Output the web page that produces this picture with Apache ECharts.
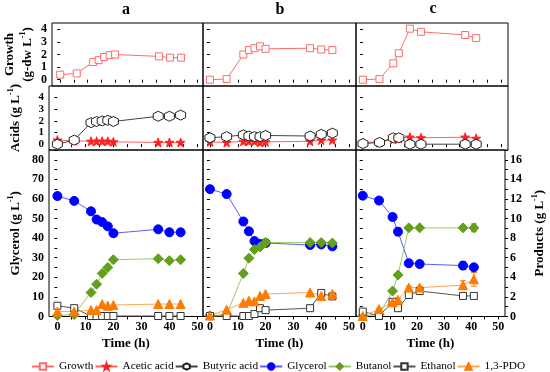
<!DOCTYPE html>
<html><head><meta charset="utf-8">
<script src="https://cdn.jsdelivr.net/npm/echarts@6/dist/echarts.min.js"></script>
<style>html,body{margin:0;padding:0;background:#fff}#c{width:550px;height:372px}</style>
</head><body><div id="c"></div>
<script>
// ---------- DATA ----------
const timeAB = [0, 6, 12, 14, 16, 18, 20, 36, 40, 44];
const timeC = [0, 6, 11, 13, 17, 21, 37, 41];

const growthA = [0.4, 0.5, 1.4, 1.55, 1.8, 1.95, 2.0, 1.85, 1.75, 1.75];
const growthB = [0.0, 0.05, 2.0, 2.35, 2.5, 2.65, 2.45, 2.5, 2.4, 2.35];
const growthC = [0.0, 0.05, 1.3, 2.1, 4.05, 3.8, 3.55, 3.3];

const aceticA = [0.35, 0.3, 0.25, 0.25, 0.25, 0.25, 0.2, 0.15, 0.15, 0.15];
const aceticB = [0.2, 0.15, 0.25, 0.25, 0.25, 0.15, 0.2, 0.25, 0.35, 0.35];
const aceticC = [0.15, 0.2, 0.4, 0.5, 0.6, 0.55, 0.6, 0.5];

const butyricA = [0.0, 0.35, 1.85, 1.95, 2.0, 2.05, 1.95, 2.4, 2.4, 2.5];
const butyricB = [0.55, 0.65, 0.8, 0.7, 0.65, 0.65, 0.75, 0.7, 0.85, 0.95];
const butyricC = [0.05, 0.15, 0.55, 0.55, 0.0, 0.0, 0.0, 0.0];

const glycerolA = [61.5, 59, 53.7, 49.5, 48.2, 46, 42.5, 44.5, 43, 43];
const glycerolB = [65, 62.5, 48.5, 43.5, 38.5, 37, 37.5, 36.5, 36.8, 35.8];
const glycerolC = [61.7, 59.2, 50.8, 43.3, 27.2, 26.8, 26, 25.1];

const butanolA = [0.1, 0.2, 2.45, 3.3, 4.4, 5.0, 5.8, 5.9, 5.7, 5.8];
const butanolB = [0.1, 0.2, 4.4, 5.95, 6.85, 7.1, 7.55, 7.55, 7.55, 7.5];
const butanolC = [0.05, 0.2, 2.6, 4.25, 9.05, 9.05, 9.05, 9.05];

const ethanolA = [1.1, 0.85, 0.05, 0.05, 0.05, 0.05, 0.05, 0.05, 0.05, 0.05];
const ethanolB = [0.05, 0.05, 0.05, 0.05, 0.25, 0.85, 0.65, 0.85, 2.4, 2.05];
const ethanolC = [0.5, 0.05, 1.5, 0.85, 2.2, 2.6, 2.1, 2.1];

const pdoA = [0.5, 0.5, 0.66, 0.66, 1.27, 1.1, 1.17, 1.27, 1.27, 1.27];
const pdoB = [0.1, 0.7, 1.4, 1.6, 1.55, 2.1, 2.3, 2.45, 2.1, 2.3];
const pdoC = [0.05, 0.75, 1.45, 1.7, 2.95, 2.95, 3.2, 3.8];

// error bars (panel c)
const glycerolErrC = [0.5, 0.5, 0.5, 1.9, 1.4, 0.6, 2.0, 0.8];
const butanolErrC = [0, 0, 0.1, 0.15, 0.15, 0.15, 0.15, 0.4];
const ethanolErrC = [0.1, 0, 0.2, 0.1, 0.1, 0.1, 0.1, 0.1];
const pdoErrC = [0, 0.1, 0.1, 0.2, 0.15, 0.15, 0.45, 0.7];

const growthTicks = [0, 1, 2, 3, 4];
const acidTicks = [0, 1, 2, 3, 4];
const glycerolTicks = [0, 10, 20, 30, 40, 50, 60, 70, 80];
const productTicks = [0, 2, 4, 6, 8, 10, 12, 14, 16];
const timeTicks = [0, 10, 20, 30, 40, 50];

const legendNames = ['Growth', 'Acetic acid', 'Butyric acid', 'Glycerol', 'Butanol', 'Ethanol', '1,3-PDO'];

// ---------- LAYOUT ----------
const F = '"Liberation Serif", "Times New Roman", serif';
const cols = [
  {left: 49, width: 154, min: -3, max: 52},
  {left: 203, width: 153, min: -2.5, max: 52.5},
  {left: 356, width: 152, min: -2.5, max: 52.5}
];
const rows = [
  {top: 23, height: 63, min: -0.5, max: 4.5, ticks: growthTicks, fs: 12},
  {top: 86, height: 64, min: -0.5, max: 5, ticks: acidTicks, fs: 11},
  {top: 150, height: 166.5, min: 0, max: 85, ticks: glycerolTicks, fs: 12}
];
const fiveTicks = []; for (let v = 0; v <= 50; v += 5) fiveTicks.push(v);
const glyMinor = []; for (let v = 0; v <= 85; v += 5) glyMinor.push(v);
const prodMinor = []; for (let v = 0; v <= 17; v += 1) prodMinor.push(v);

const nameStyle = {fontFamily: F, fontWeight: 'bold', fontSize: 13, color: '#000', lineHeight: 18,
  rich: {sup: {fontFamily: F, fontWeight: 'bold', fontSize: 8, verticalAlign: 'top', lineHeight: 18}}};

const grid = [], xAxis = [], yAxis = [];
rows.forEach((r, ri) => {
  cols.forEach((c, ci) => {
    grid.push({left: c.left, top: r.top, width: c.width, height: r.height,
      show: true, borderColor: '#000', borderWidth: 1, backgroundColor: 'transparent'});
    const gi = ri * 3 + ci;
    xAxis.push({type: 'value', gridIndex: gi, min: c.min, max: c.max,
      axisLine: {show: false}, splitLine: {show: false},
      axisTick: {show: true, length: 3, customValues: fiveTicks, lineStyle: {color: '#000'}},
      axisLabel: {show: ri === 2, customValues: timeTicks, hideOverlap: false, fontFamily: F, fontWeight: 'bold', fontSize: 12, color: '#000', margin: 4},
      name: ri === 2 ? 'Time (h)' : '', nameLocation: 'middle', nameGap: 21,
      nameTextStyle: {fontFamily: F, fontWeight: 'bold', fontSize: 13, color: '#000'}});
    let yname = '';
    if (ci === 0) {
      if (ri === 0) yname = 'Growth\n(g-dw L{sup|-1})';
      if (ri === 1) yname = 'Acids (g L{sup|-1})';
      if (ri === 2) yname = 'Glycerol (g L{sup|-1})';
    }
    yAxis.push({type: 'value', gridIndex: gi, min: r.min, max: r.max,
      axisLine: {show: false}, splitLine: {show: false},
      axisTick: {show: true, length: 3, customValues: ri === 2 ? glyMinor : r.ticks, lineStyle: {color: '#000'}},
      axisLabel: {show: ci === 0, customValues: r.ticks, hideOverlap: false, showMinLabel: true, showMaxLabel: true,
        fontFamily: F, fontWeight: 'bold', fontSize: r.fs, lineHeight: 10, color: '#000', margin: 5},
      name: yname, nameLocation: 'middle', nameRotate: 90, nameGap: ri === 0 ? 15 : 24,
      nameTextStyle: nameStyle});
  });
});
// right axes for bottom row (index 9,10,11)
[0, 1, 2].forEach(ci => {
  yAxis.push({type: 'value', gridIndex: 6 + ci, position: 'right', min: 0, max: 17,
    show: true,
    axisLine: {show: false}, splitLine: {show: false},
    axisTick: {show: ci === 2, length: 3, customValues: prodMinor, lineStyle: {color: '#000'}},
    axisLabel: {show: ci === 2, customValues: productTicks, hideOverlap: false, fontFamily: F, fontWeight: 'bold', fontSize: 12, color: '#000', margin: 5},
    name: ci === 2 ? 'Products (g L{sup|-1})' : '', nameLocation: 'middle', nameRotate: 90, nameGap: 26,
    nameTextStyle: nameStyle});
});

// ---------- SYMBOLS / STYLES ----------
const STAR = 'path://M0,-10 L2.35,-3.24 L9.51,-3.09 L3.80,1.24 L5.88,8.09 L0,4 L-5.88,8.09 L-3.80,1.24 L-9.51,-3.09 L-2.35,-3.24 Z';
const HEX = 'path://M0,-10 L8.66,-5 L8.66,5 L0,10 L-8.66,5 L-8.66,-5 Z';
const ST = {
  'Growth': {symbol: 'rect', size: 7, fill: '#fff', border: '#ff6b6b', line: '#ff6b6b'},
  'Acetic acid': {symbol: STAR, size: 9, fill: '#ff2020', border: '#ff2020', line: '#ff6060'},
  'Butyric acid': {symbol: HEX, size: 10, fill: '#fff', border: '#222', line: '#444'},
  'Glycerol': {symbol: 'circle', size: 9, fill: '#0000ff', border: '#0000ff', line: '#5a5aff'},
  'Butanol': {symbol: 'diamond', size: 10, fill: '#62a01c', border: '#62a01c', line: '#94cc62'},
  'Ethanol': {symbol: 'rect', size: 7, fill: '#fff', border: '#333', line: '#555'},
  '1,3-PDO': {symbol: 'triangle', size: 9, fill: '#ff7a00', border: '#ff7a00', line: '#ffa552'}
};
function S(name, gi, yi, xs, ys) {
  const s = ST[name];
  return {type: 'line', name, xAxisIndex: gi, yAxisIndex: yi,
    data: xs.map((t, i) => [t, ys[i]]),
    symbol: s.symbol, symbolSize: s.size, showAllSymbol: true,
    itemStyle: {color: s.fill, borderColor: s.border, borderWidth: 1},
    lineStyle: {color: s.line, width: 1}, emphasis: {disabled: true}, z: 3};
}
function E(gi, yi, xs, ys, es, color) {
  return {type: 'custom', name: 'err', xAxisIndex: gi, yAxisIndex: yi, z: 2,
    data: xs.map((t, i) => [t, ys[i] - es[i], ys[i] + es[i]]),
    renderItem: function (params, api) {
      const lo = api.coord([api.value(0), api.value(1)]);
      const hi = api.coord([api.value(0), api.value(2)]);
      const w = 3;
      return {type: 'group', children: [
        {type: 'line', shape: {x1: lo[0], y1: lo[1], x2: hi[0], y2: hi[1]}, style: {stroke: color, lineWidth: 1}},
        {type: 'line', shape: {x1: lo[0] - w, y1: lo[1], x2: lo[0] + w, y2: lo[1]}, style: {stroke: color, lineWidth: 1}},
        {type: 'line', shape: {x1: hi[0] - w, y1: hi[1], x2: hi[0] + w, y2: hi[1]}, style: {stroke: color, lineWidth: 1}}
      ]};
    }};
}

const series = [
  S('Growth', 0, 0, timeAB, growthA), S('Growth', 1, 1, timeAB, growthB), S('Growth', 2, 2, timeC, growthC),
  S('Acetic acid', 3, 3, timeAB, aceticA), S('Acetic acid', 4, 4, timeAB, aceticB), S('Acetic acid', 5, 5, timeC, aceticC),
  S('Butyric acid', 3, 3, timeAB, butyricA), S('Butyric acid', 4, 4, timeAB, butyricB), S('Butyric acid', 5, 5, timeC, butyricC),
  S('Glycerol', 6, 6, timeAB, glycerolA), S('Glycerol', 7, 7, timeAB, glycerolB), S('Glycerol', 8, 8, timeC, glycerolC),
  S('Butanol', 6, 9, timeAB, butanolA), S('Butanol', 7, 10, timeAB, butanolB), S('Butanol', 8, 11, timeC, butanolC),
  S('Ethanol', 6, 9, timeAB, ethanolA), S('Ethanol', 7, 10, timeAB, ethanolB), S('Ethanol', 8, 11, timeC, ethanolC),
  S('1,3-PDO', 6, 9, timeAB, pdoA), S('1,3-PDO', 7, 10, timeAB, pdoB), S('1,3-PDO', 8, 11, timeC, pdoC),
  E(8, 8, timeC, glycerolC, glycerolErrC, '#0000ff'),
  E(8, 11, timeC, butanolC, butanolErrC, '#62a01c'),
  E(8, 11, timeC, ethanolC, ethanolErrC, '#333'),
  E(8, 11, timeC, pdoC, pdoErrC, '#ff7a00')
];

const chart = echarts.init(document.getElementById('c'), null, {renderer: 'canvas'});
chart.setOption({
  animation: false,
  grid, xAxis, yAxis, series,
  legend: {data: legendNames, left: 26, top: 356, width: 524, itemWidth: 22, itemHeight: 8, itemGap: 1,
    textStyle: {fontFamily: F, fontSize: 11.3, color: '#000'}, selectedMode: false},
  graphic: [
    {type: 'text', x: 126, y: 10, style: {text: 'a', textAlign: 'center', textVerticalAlign: 'middle', font: 'bold 16px "Liberation Serif"', fill: '#000'}},
    {type: 'text', x: 280, y: 10, style: {text: 'b', textAlign: 'center', textVerticalAlign: 'middle', font: 'bold 16px "Liberation Serif"', fill: '#000'}},
    {type: 'text', x: 433, y: 9, style: {text: 'c', textAlign: 'center', textVerticalAlign: 'middle', font: 'bold 16px "Liberation Serif"', fill: '#000'}}
  ]
});
</script></body></html>
